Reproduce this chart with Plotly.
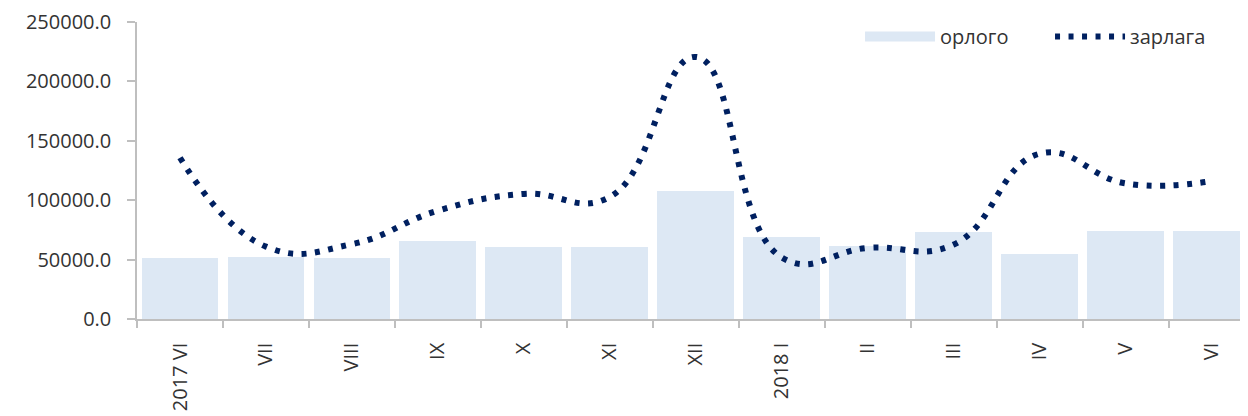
import plotly.graph_objects as go

# --- data ---
month_labels = ["2017 VI", "VII", "VIII", "IX", "X", "XI", "XII",
                "2018 I", "II", "III", "IV", "V", "VI"]
orlogo = [51100, 51900, 51100, 66000, 60900, 60700, 108000,
          69300, 61200, 73500, 54500, 74400, 73800]
zarlaga = [135700, 60900, 63000, 91200, 105300, 102800, 220600,
           51700, 59900, 62800, 139200, 114100, 116200]
y_ticks = [0, 50000, 100000, 150000, 200000, 250000]

positions = list(range(len(month_labels)))

FONT = "Open Sans"
TXT = "#333333"
AX = "#bfbfbf"
BAR_C = "#dde8f4"
LINE_C = "#002060"

fig = go.Figure()
fig.add_trace(go.Bar(
    x=positions, y=orlogo, name="орлого", legendgroup="o",
    marker=dict(color=BAR_C, line=dict(width=0)),
    width=0.895, showlegend=False,
))
# legend entry for the bars (wide swatch like the original)
fig.add_trace(go.Scatter(
    x=[None], y=[None], name="орлого", legendgroup="o", mode="lines",
    line=dict(color=BAR_C, width=15),
))
fig.add_trace(go.Scatter(
    x=positions, y=zarlaga, name="зарлага", mode="lines",
    line=dict(color=LINE_C, width=6, dash="5px,8.5px",
              shape="spline", smoothing=1.3),
))

fig.update_layout(
    width=1240, height=408,
    margin=dict(l=129, r=0, t=14, b=96.5, pad=0),
    paper_bgcolor="white", plot_bgcolor="white",
    font=dict(family=FONT, size=20, color=TXT),
    showlegend=True,
    legend=dict(orientation="h", x=0.6508, xanchor="left", y=1.017, yanchor="top",
                bgcolor="rgba(0,0,0,0)", font=dict(size=20, color=TXT),
                itemwidth=70, entrywidth=105, traceorder="normal"),
    bargap=0,
)
fig.update_xaxes(
    range=[-0.5, 12.42], automargin=False,
    tickmode="array", tickvals=positions, ticktext=month_labels,
    tickangle=-90, ticks="outside", ticklen=14, tickcolor="rgba(0,0,0,0)",
    showline=True, linecolor=AX, linewidth=1.5,
    showgrid=False, zeroline=False,
    minor=dict(tickmode="linear", tick0=-0.5, dtick=1, ticks="outside",
               ticklen=7, tickcolor=AX, tickwidth=1.5, showgrid=False),
    tickfont=dict(family=FONT, size=20, color=TXT),
)
fig.update_yaxes(
    range=[0, 250000], automargin=False,
    tickmode="array", tickvals=y_ticks, tickformat=".1f",
    ticklabelstandoff=12,
    ticks="outside", ticklen=8, tickcolor=AX, tickwidth=1.5,
    showline=True, linecolor=AX, linewidth=1.5,
    showgrid=False, zeroline=False,
    tickfont=dict(family=FONT, size=20, color=TXT),
)

fig.write_html("out.html")
